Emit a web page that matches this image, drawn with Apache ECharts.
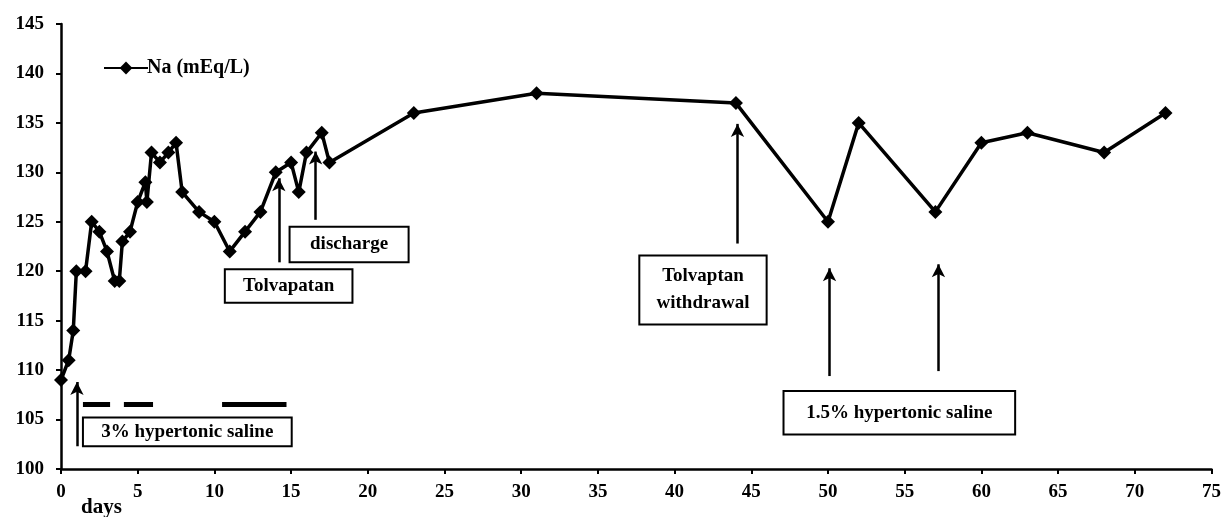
<!DOCTYPE html>
<html><head><meta charset="utf-8">
<script src="https://cdn.jsdelivr.net/npm/echarts@6/dist/echarts.min.js"></script>
<style>html,body{margin:0;padding:0;background:#fff}#c{width:1224px;height:517px}</style>
</head><body><div id="c"></div>
<script>
const days = [0,0.5,0.8,1,1.6,2,2.5,3,3.5,3.8,4,4.5,5,5.5,5.6,5.9,6.45,7,7.5,7.9,9,10,11,12,13,14,15,15.5,16,17,17.5,23,31,44,50,52,57,60,63,68,72];
const sodium = [109,111,114,120,120,125,124,122,119,119,123,124,127,129,127,132,131,132,133,128,126,125,122,124,126,130,131,128,132,134,131,136,138,137,125,135,126,133,134,132,136];
const seriesName = 'Na (mEq/L)';
// annotation arrows: [day, fromValue, toValue]
const arrows = [[1.04,102.3,108.8],[14.2,120.9,129.4],[16.6,125.2,132.1],[44.1,122.8,134.9],[50.1,109.4,120.3],[57.2,109.9,120.7]];
// annotation boxes: label, [dayStart, dayEnd, valueTop, valueBottom]
const boxLabels = ['3% hypertonic saline','Tolvapatan','discharge','Tolvaptan\nwithdrawal','1.5% hypertonic saline'];
const boxRanges = [[1.43,15.04,105.2,102.3],[10.68,19.0,120.2,116.8],[14.9,22.66,124.5,120.9],[37.7,46.0,121.6,114.6],[47.1,62.2,107.9,103.5]];
// 3% saline administration periods
const salinePeriods = [[1.43,3.2],[4.1,6.0],[10.5,14.7]];
const salineLevel = 106.5;

const FONT = "'Liberation Serif','Times New Roman',serif";
const chart = echarts.init(document.getElementById('c'), null, {renderer:'canvas'});
const lineData = days.map((d,i)=>[d, sodium[i]]);
chart.setOption({
  animation:false,
  backgroundColor:'#fff',
  grid:{left:61,right:11,top:24,bottom:48,containLabel:false},
  legend:{data:[{name:seriesName,itemStyle:{color:'#000'}}],left:98,top:53,itemWidth:44,itemHeight:16,itemGap:0,
    textStyle:{fontFamily:FONT,fontWeight:'bold',fontSize:20,color:'#000',padding:[0,0,0,-6]}},
  xAxis:{type:'value',min:0,max:75,interval:5,
    axisLine:{lineStyle:{color:'#000',width:2.5}},
    axisTick:{show:true,length:5,lineStyle:{color:'#000',width:2}},
    splitLine:{show:false},
    axisLabel:{fontFamily:FONT,fontWeight:'bold',fontSize:19,color:'#000',margin:14}},
  yAxis:{type:'value',min:100,max:145,interval:5,
    axisLine:{show:true,lineStyle:{color:'#000',width:2.5}},
    axisTick:{show:true,length:5,lineStyle:{color:'#000',width:2}},
    splitLine:{show:false},
    axisLabel:{fontFamily:FONT,fontWeight:'bold',fontSize:19,color:'#000',margin:17}},
  graphic:[{type:'text',left:81,top:497,style:{text:'days',font:"bold 21px 'Liberation Serif','Times New Roman',serif",fill:'#000'}}],
  series:[
    {name:seriesName,type:'line',data:lineData,symbol:'diamond',symbolSize:14,
     lineStyle:{color:'#000',width:3.5},itemStyle:{color:'#000'},z:5,
     markArea:{silent:true,
       itemStyle:{color:'#fff',borderColor:'#000',borderWidth:2},
       label:{position:'inside',fontFamily:FONT,fontWeight:'bold',fontSize:19,color:'#000',lineHeight:27},
       data:boxRanges.map((r,i)=>[{name:boxLabels[i],coord:[r[0],r[2]]},{coord:[r[1],r[3]]}])},
     markLine:{silent:true,symbol:['none','arrow'],symbolSize:[10,13],
       lineStyle:{color:'#000',width:2.5,type:'solid'},label:{show:false},
       data:arrows.map(a=>[{coord:[a[0],a[1]]},{coord:[a[0],a[2]]}])}
    },
    {name:'saline',type:'line',data:[],
     markLine:{silent:true,symbol:['none','none'],
       lineStyle:{color:'#000',width:5,type:'solid'},label:{show:false},
       data:salinePeriods.map(p=>[{coord:[p[0],salineLevel]},{coord:[p[1],salineLevel]}])}
    }
  ]
});
</script></body></html>
